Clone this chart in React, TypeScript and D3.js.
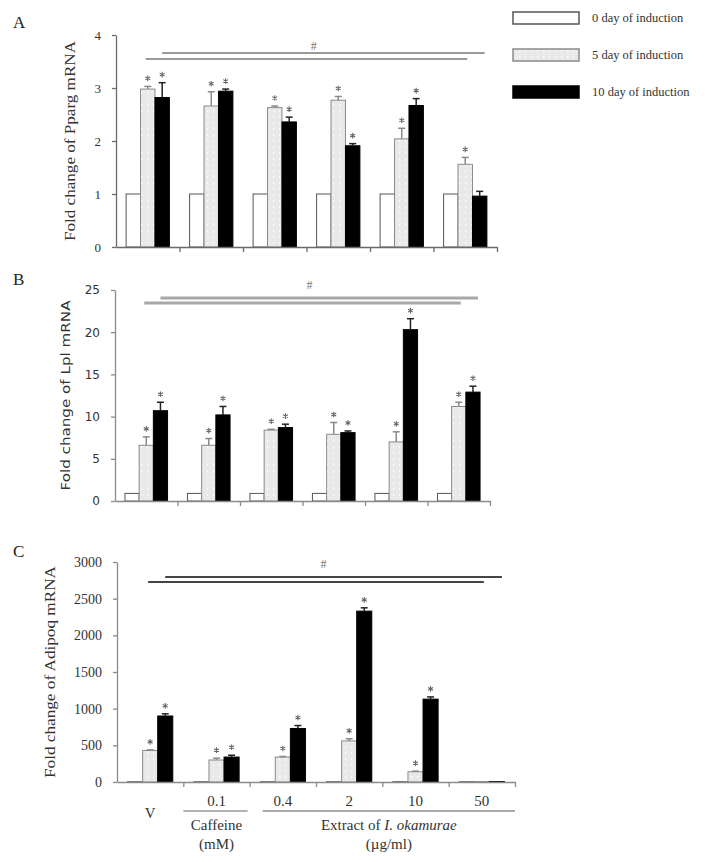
import React, { useEffect, useRef } from 'react';
import * as d3 from 'd3';

// groups along the x axis (V, caffeine 0.1 mM, extract 0.4..50 ug/ml)
const groups = ['V', '0.1', '0.4', '2', '10', '50'];
const seriesNames = ['0 day of induction', '5 day of induction', '10 day of induction'];

// A - Pparg
const ppargDay0 = [1, 1, 1, 1, 1, 1];
const ppargDay5 = [2.98, 2.66, 2.63, 2.77, 2.04, 1.56];
const ppargDay5Err = [0.05, 0.27, 0.03, 0.07, 0.2, 0.13];
const ppargDay10 = [2.82, 2.94, 2.36, 1.91, 2.67, 0.96];
const ppargDay10Err = [0.28, 0.04, 0.09, 0.04, 0.13, 0.09];
const ppargStar5 = [1, 1, 1, 1, 1, 1];
const ppargStar10 = [1, 1, 1, 1, 1, 0];
const ppargTicks = [0, 1, 2, 3, 4];

// B - Lpl
const lplDay0 = [0.9, 0.9, 0.9, 0.9, 0.9, 0.9];
const lplDay5 = [6.6, 6.6, 8.4, 7.9, 7.0, 11.2];
const lplDay5Err = [1.0, 0.8, 0.1, 1.4, 1.2, 0.5];
const lplDay10 = [10.7, 10.2, 8.7, 8.1, 20.3, 12.9];
const lplDay10Err = [1.0, 1.0, 0.4, 0.2, 1.3, 0.7];
const lplStar5 = [1, 1, 1, 1, 1, 1];
const lplStar10 = [1, 1, 1, 1, 1, 1];
const lplTicks = [0, 5, 10, 15, 20, 25];

// C - Adipoq
const adipoqDay0 = [4, 4, 4, 4, 4, 4];
const adipoqDay5 = [430, 300, 340, 560, 140, 6];
const adipoqDay5Err = [8, 25, 8, 30, 8, 0];
const adipoqDay10 = [900, 340, 730, 2330, 1130, 6];
const adipoqDay10Err = [30, 25, 40, 45, 30, 0];
const adipoqStar5 = [1, 1, 1, 1, 1, 0];
const adipoqStar10 = [1, 1, 1, 1, 1, 0];
const adipoqTicks = [0, 500, 1000, 1500, 2000, 2500, 3000];

const SERIF = '"Liberation Serif", "Times New Roman", serif';
const SANS = '"DejaVu Sans", sans-serif';

const panels = [
  {
    letter: 'A', letterY: 28, label: 'Fold change of Pparg  mRNA', labelX: 72, labelLen: 200,
    x0: 116, x1: 497, y0: 247, y1: 35, max: 4, ticks: ppargTicks, font: SERIF, tickFont: 13, labelFont: 14,
    axisColor: '#6a6a6a', hashColor: '#9a9a9a', hashWidth: 2, hashY: [53, 59], hashText: 50,
    values: [ppargDay0, ppargDay5, ppargDay10], errs: [null, ppargDay5Err, ppargDay10Err],
    stars: [null, ppargStar5, ppargStar10]
  },
  {
    letter: 'B', letterY: 285, label: 'Fold change of Lpl  mRNA', labelX: 66, labelLen: 190,
    x0: 115, x1: 490, y0: 501, y1: 290, max: 25, ticks: lplTicks, font: SANS, tickFont: 12, labelFont: 12,
    axisColor: '#8a8a8a', hashColor: '#a8a8a8', hashWidth: 3, hashY: [298, 303], hashText: 289,
    values: [lplDay0, lplDay5, lplDay10], errs: [null, lplDay5Err, lplDay10Err],
    stars: [null, lplStar5, lplStar10]
  },
  {
    letter: 'C', letterY: 557, label: 'Fold change of Adipoq mRNA', labelX: 52, labelLen: 212,
    x0: 117, x1: 515, y0: 782, y1: 562, max: 3000, ticks: adipoqTicks, font: SERIF, tickFont: 14, labelFont: 14,
    axisColor: '#8a8a8a', hashColor: '#444', hashWidth: 2, hashY: [577, 582], hashText: 568,
    values: [adipoqDay0, adipoqDay5, adipoqDay10], errs: [null, adipoqDay5Err, adipoqDay10Err],
    stars: [null, adipoqStar5, adipoqStar10]
  }
];

const fills = ['#ffffff', 'url(#dotfill)', '#000000'];
const strokes = ['#555', '#8a8a8a', '#000'];
const errColors = ['#555', '#8a8a8a', '#222'];

const App = () => {
  const ref = useRef<SVGSVGElement>(null);

  useEffect(() => {
    const svg = d3.select(ref.current);
    svg.selectAll('*').remove();

    const defs = svg.append('defs');
    const pat = defs.append('pattern').attr('id', 'dotfill')
      .attr('patternUnits', 'userSpaceOnUse').attr('width', 6).attr('height', 6);
    pat.append('rect').attr('width', 6).attr('height', 6).attr('fill', '#e9e9e9');
    pat.append('rect').attr('x', 3).attr('y', 2).attr('width', 1.2).attr('height', 2).attr('fill', '#fafafa');

    const star = d3.symbol().type(d3.symbolAsterisk).size(22);

    panels.forEach((p) => {
      const g = svg.append('g');
      const y = d3.scaleLinear().domain([0, p.max]).range([p.y0, p.y1]);
      const x = d3.scaleBand().domain(groups).range([p.x0, p.x1]);
      const xi = d3.scaleBand<number>().domain([0, 1, 2]).range([0, x.bandwidth()])
        .paddingInner(0).paddingOuter(0.7);
      const bw = xi.bandwidth();

      // panel letter
      g.append('text').attr('x', 13).attr('y', p.letterY).text(p.letter)
        .attr('font-family', SERIF).attr('font-size', 17).attr('fill', '#222');

      // y label
      g.append('text')
        .attr('transform', `translate(${p.labelX},${(p.y0 + p.y1) / 2}) rotate(-90)`)
        .attr('text-anchor', 'middle').attr('dominant-baseline', 'middle')
        .attr('font-family', p.font).attr('font-size', p.labelFont).attr('fill', '#333')
        .attr('textLength', p.labelLen).attr('lengthAdjust', 'spacingAndGlyphs')
        .text(p.label);

      // bars
      p.values.forEach((vals, s) => {
        g.append('g').selectAll('rect').data(vals).enter().append('rect')
          .attr('x', (d, i) => (x(groups[i]) as number) + (xi(s) as number))
          .attr('y', (d) => y(d))
          .attr('width', bw)
          .attr('height', (d) => p.y0 - y(d))
          .attr('fill', fills[s])
          .attr('stroke', strokes[s])
          .attr('stroke-width', 1);

        const errs = p.errs[s];
        if (errs) {
          const eg = g.append('g').attr('stroke', errColors[s]).attr('stroke-width', 1.5);
          vals.forEach((v, i) => {
            if (!errs[i]) return;
            const cx = (x(groups[i]) as number) + (xi(s) as number) + bw / 2;
            eg.append('line').attr('x1', cx).attr('x2', cx).attr('y1', y(v)).attr('y2', y(v + errs[i]));
            eg.append('line').attr('x1', cx - 3.5).attr('x2', cx + 3.5)
              .attr('y1', y(v + errs[i])).attr('y2', y(v + errs[i]));
          });
        }
        const stars = p.stars[s];
        if (stars) {
          vals.forEach((v, i) => {
            if (!stars[i]) return;
            const cx = (x(groups[i]) as number) + (xi(s) as number) + bw / 2;
            g.append('path').attr('d', star as any)
              .attr('transform', `translate(${cx},${y(v + (errs ? errs[i] : 0)) - 8})`)
              .attr('fill', 'none').attr('stroke', '#666').attr('stroke-width', 1.1);
          });
        }
      });

      // y axis
      const ya = g.append('g').attr('transform', `translate(${p.x0},0)`)
        .call(d3.axisLeft(y).tickValues(p.ticks).tickFormat(d3.format('d'))
          .tickSize(4).tickSizeOuter(0).tickPadding(11));
      ya.selectAll('path,line').attr('stroke', p.axisColor).attr('stroke-width', 1.3);
      ya.selectAll('text').attr('font-family', p.font).attr('font-size', p.tickFont).attr('fill', '#333');

      // x axis with ticks at group boundaries
      const xb = d3.scaleLinear().domain([0, groups.length]).range([p.x0, p.x1]);
      const xa = g.append('g').attr('transform', `translate(0,${p.y0})`)
        .call(d3.axisBottom(xb).tickValues(d3.range(1, groups.length + 1)).tickSize(5).tickSizeOuter(0).tickFormat(() => ''));
      xa.selectAll('path,line').attr('stroke', p.axisColor).attr('stroke-width', 1.3);

      // # significance lines: from 5-day bars and 10-day bars of first to last group
      const c = (gi: number, s: number) => (x(groups[gi]) as number) + (xi(s) as number) + bw / 2;
      const last = groups.length - 1;
      g.append('line').attr('x1', c(0, 2)).attr('x2', c(last, 2) + 5)
        .attr('y1', p.hashY[0]).attr('y2', p.hashY[0])
        .attr('stroke', p.hashColor).attr('stroke-width', p.hashWidth);
      g.append('line').attr('x1', c(0, 1) - 2).attr('x2', c(last, 1) + 2)
        .attr('y1', p.hashY[1]).attr('y2', p.hashY[1])
        .attr('stroke', p.hashColor).attr('stroke-width', p.hashWidth);
      g.append('text').attr('x', (c(0, 1) + c(last, 2)) / 2).attr('y', p.hashText)
        .attr('text-anchor', 'middle').attr('font-family', SERIF).attr('font-size', 12)
        .attr('fill', '#777').text('#');
    });

    // group labels under panel C
    const pc = panels[2];
    const xc = d3.scaleBand().domain(groups).range([pc.x0, pc.x1]);
    const lab = svg.append('g').attr('font-family', SERIF).attr('font-size', 15).attr('fill', '#333')
      .attr('text-anchor', 'middle');
    groups.forEach((gname, i) => {
      const cx = (xc(gname) as number) + xc.bandwidth() / 2;
      lab.append('text').attr('x', cx).attr('y', i === 0 ? 818 : 806).text(gname);
    });
    const caf = [xc('0.1') as number, (xc('0.1') as number) + xc.bandwidth()];
    const ext = [xc('0.4') as number, (xc('50') as number) + xc.bandwidth()];
    svg.append('line').attr('x1', caf[0]).attr('x2', caf[1] - 2).attr('y1', 811).attr('y2', 811)
      .attr('stroke', '#999').attr('stroke-width', 1.5);
    svg.append('line').attr('x1', ext[0] + 13).attr('x2', ext[1]).attr('y1', 811).attr('y2', 811)
      .attr('stroke', '#555').attr('stroke-width', 1.2);
    const cafC = (caf[0] + caf[1]) / 2;
    const extC = (ext[0] + 13 + ext[1]) / 2;
    lab.append('text').attr('x', cafC).attr('y', 830).text('Caffeine');
    lab.append('text').attr('x', cafC).attr('y', 849).text('(mM)');
    const et = lab.append('text').attr('x', extC).attr('y', 830);
    et.append('tspan').text('Extract of ');
    et.append('tspan').attr('font-style', 'italic').text('I. okamurae');
    lab.append('text').attr('x', extC).attr('y', 849).text('(\u00b5g/ml)');

    // legend
    const leg = svg.append('g');
    seriesNames.forEach((name, s) => {
      const ly = 12 + s * 37;
      leg.append('rect').attr('x', 513).attr('y', ly).attr('width', 66).attr('height', 12)
        .attr('fill', fills[s]).attr('stroke', strokes[s]).attr('stroke-width', 1.5);
      leg.append('text').attr('x', 592).attr('y', ly + 10).text(name)
        .attr('font-family', SERIF).attr('font-size', 12.5).attr('fill', '#333');
    });
  }, []);

  return (
    <svg ref={ref} width={728} height={862}
      style={{ position: 'absolute', left: 0, top: 0, background: '#fff' }} />
  );
};

export default App;
